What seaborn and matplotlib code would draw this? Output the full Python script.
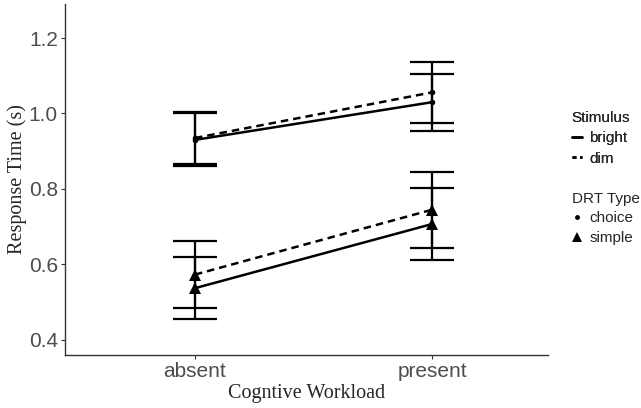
import pandas as pd
import seaborn as sns
import matplotlib.pyplot as plt
from matplotlib.lines import Line2D

# values
workload = ['absent', 'present']
stimulus = ['bright', 'dim']
drt_type = ['choice', 'simple']

choice_bright = [0.930, 1.030]
choice_dim = [0.935, 1.056]
simple_bright = [0.537, 0.707]
simple_dim = [0.573, 0.745]

choice_bright_ci = [0.070, 0.076]
choice_dim_ci = [0.070, 0.080]
simple_bright_ci = [0.082, 0.095]
simple_dim_ci = [0.089, 0.101]


def main():
    rows = []
    series = {
        ('bright', 'choice'): (choice_bright, choice_bright_ci),
        ('dim', 'choice'): (choice_dim, choice_dim_ci),
        ('bright', 'simple'): (simple_bright, simple_bright_ci),
        ('dim', 'simple'): (simple_dim, simple_dim_ci),
    }
    for (stim, drt), (vals, cis) in series.items():
        for i, w in enumerate(workload):
            rows.append({'workload': w, 'x': i, 'stimulus': stim, 'drt': drt,
                         'rt': vals[i], 'ci': cis[i]})
    df = pd.DataFrame(rows)

    sns.set_style('white')
    fig = plt.figure(figsize=(6.41, 4.08), dpi=100)
    ax = fig.add_axes([0.101, 0.130, 0.754, 0.860])

    styles = {'bright': '-', 'dim': (0, (3, 2))}
    markers = {'choice': 'o', 'simple': '^'}
    msizes = {'choice': 4, 'simple': 8}

    for (stim, drt), g in df.groupby(['stimulus', 'drt']):
        ax.errorbar(g['x'], g['rt'], yerr=g['ci'], fmt='none', ecolor='black',
                    elinewidth=1.6, capsize=16, capthick=1.6, zorder=2)
        sns.lineplot(data=g, x='x', y='rt', ax=ax, color='black',
                     linestyle=styles[stim], linewidth=1.8, marker=markers[drt],
                     markersize=msizes[drt], markeredgewidth=0, zorder=3)

    ax.set_xlim(-0.549, 1.489)
    ax.set_ylim(0.36, 1.29)
    ax.set_xticks([0, 1])
    ax.set_xticklabels(workload)
    ax.set_yticks([0.4, 0.6, 0.8, 1.0, 1.2])
    ax.set_yticklabels(['0.4', '0.6', '0.8', '1.0', '1.2'])
    for lab in ax.get_xticklabels() + ax.get_yticklabels():
        lab.set_family('Liberation Sans')
        lab.set_fontsize(15)
        lab.set_color('#4d4d4d')
    ax.tick_params(axis='both', length=3, width=0.8, color='#333333', pad=2,
                   left=True, bottom=True)
    for side in ['top', 'right']:
        ax.spines[side].set_visible(False)
    for side in ['left', 'bottom']:
        ax.spines[side].set_color('#333333')
        ax.spines[side].set_linewidth(1.0)

    ax.set_xlabel('Cogntive Workload', family='Liberation Serif', fontsize=14.5, labelpad=2)
    ax.set_ylabel('Response Time (s)', family='Liberation Serif', fontsize=14.5, labelpad=1)

    stim_handles = [Line2D([], [], color='black', linestyle=s, linewidth=1.8)
                    for s in ['-', (0, (1.6, 1.4))]]
    drt_handles = [Line2D([], [], color='black', linestyle='none', marker=markers[d],
                          markersize={'choice': 3.5, 'simple': 7.5}[d], markeredgewidth=0)
                   for d in drt_type]

    leg_kw = dict(frameon=False, prop={'family': 'Liberation Sans', 'size': 11},
                  handlelength=0.7, handletextpad=0.45, labelspacing=0.4,
                  borderaxespad=0, borderpad=0, alignment='left')
    leg1 = fig.legend(stim_handles, stimulus, title='Stimulus', loc='upper left',
                      bbox_to_anchor=(0.892, 0.727),
                      title_fontproperties={'family': 'Liberation Sans', 'size': 11},
                      **leg_kw)
    fig.add_artist(leg1)

    # second legend title drawn as text so it runs off the right edge like the original
    fig.text(0.892, 0.512, 'DRT Type', family='Liberation Sans', fontsize=11,
             ha='left', va='center')
    fig.legend(drt_handles, drt_type, loc='upper left',
               bbox_to_anchor=(0.892, 0.482), **leg_kw)

    fig.savefig('out.png', dpi=100)


if __name__ == "__main__":
    main()
